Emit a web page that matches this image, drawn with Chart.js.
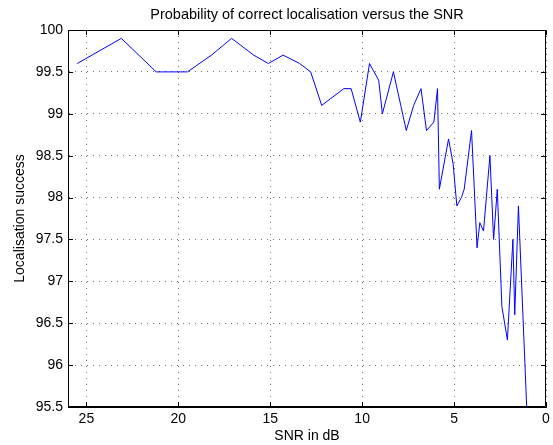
<!DOCTYPE html>
<html>
<head>
<meta charset="utf-8">
<script src="https://cdn.jsdelivr.net/npm/chart.js@4/dist/chart.umd.min.js"></script>
<style>
  html, body { margin: 0; padding: 0; background: #fff; }
  #wrap { width: 553px; height: 445px; }
</style>
</head>
<body>
<div id="wrap"><canvas id="snrChart" width="553" height="445"></canvas></div>
<script>
// SNR values (dB) and localisation success (%)
const snrValues = [25.5, 23.1, 21.2, 19.5, 18.2, 17.1, 15.9, 15.1, 14.3, 13.4,
  12.8, 12.2, 11.6, 11.0, 10.6, 10.1, 9.6, 9.1, 8.9, 8.3,
  7.9, 7.6, 7.2, 6.8, 6.5, 6.1, 5.9, 5.8, 5.3, 5.05,
  4.85, 4.6, 4.45, 4.05, 3.75, 3.6, 3.4, 3.05, 2.85, 2.65,
  2.4, 2.1, 1.8, 1.7, 1.5, 1.05];
const successValues = [99.6, 99.9, 99.5, 99.5, 99.7, 99.9, 99.7, 99.6, 99.7, 99.6,
  99.5, 99.1, 99.2, 99.3, 99.3, 98.9, 99.6, 99.4, 99.0, 99.5,
  99.1, 98.8, 99.1, 99.3, 98.8, 98.9, 99.3, 98.1, 98.7, 98.4,
  97.9, 98.0, 98.1, 98.8, 97.4, 97.7, 97.6, 98.5, 97.5, 98.1,
  96.7, 96.3, 97.5, 96.6, 97.9, 95.5];

const xTicks = [0, 5, 10, 15, 20, 25];
const yTicks = [95.5, 96, 96.5, 97, 97.5, 98, 98.5, 99, 99.5, 100];
const chartTitle = 'Probability of correct localisation versus the SNR';

const FONT = 'Liberation Sans, Arial, Helvetica, sans-serif';

// matlab style box with inward ticks on all four sides, title centred over the axes
const boxPlugin = {
  id: 'boxPlugin',
  afterDraw(chart) {
    const { ctx, chartArea: a, scales } = chart;
    ctx.save();
    ctx.strokeStyle = '#000';
    ctx.lineWidth = 1;
    ctx.beginPath();
    ctx.rect(a.left + 0.5, a.top + 0.5, a.right - a.left - 1, a.bottom - a.top - 1);
    const len = 5;
    xTicks.forEach(v => {
      const px = Math.round(scales.x.getPixelForValue(v)) + 0.5;
      ctx.moveTo(px, a.bottom); ctx.lineTo(px, a.bottom - len);
      ctx.moveTo(px, a.top); ctx.lineTo(px, a.top + len);
    });
    yTicks.forEach(v => {
      const py = Math.round(scales.y.getPixelForValue(v)) + 0.5;
      ctx.moveTo(a.left, py); ctx.lineTo(a.left + len, py);
      ctx.moveTo(a.right, py); ctx.lineTo(a.right - len, py);
    });
    ctx.stroke();

    ctx.fillStyle = '#000';
    ctx.font = '14.5px ' + FONT;
    ctx.textAlign = 'center';
    ctx.textBaseline = 'middle';
    ctx.fillText(chartTitle, (a.left + a.right) / 2, 15);
    ctx.restore();
  }
};

const points = snrValues.map((x, i) => ({ x: x, y: successValues[i] }));

new Chart(document.getElementById('snrChart'), {
  type: 'line',
  data: {
    datasets: [{
      data: points,
      borderColor: '#0000ff',
      borderWidth: 1,
      pointRadius: 0,
      tension: 0,
      fill: false
    }]
  },
  options: {
    responsive: false,
    animation: false,
    layout: { padding: { top: 30, right: 7, left: 12, bottom: 0 } },
    plugins: {
      legend: { display: false },
      tooltip: { enabled: false },
      title: { display: false }
    },
    scales: {
      x: {
        type: 'linear',
        reverse: true,
        min: 0,
        max: 26,
        afterBuildTicks(scale) { scale.ticks = xTicks.map(v => ({ value: v })); },
        afterFit(scale) { scale.height = 38; },
        ticks: { color: '#000', font: { family: FONT, size: 14 }, padding: 4, maxRotation: 0,
          callback: v => String(v) },
        grid: { color: 'rgba(0,0,0,0.55)', borderDash: [1, 5], drawTicks: false },
        border: { display: true, color: '#000', width: 1, dash: [1, 5] },
        title: {
          display: true, text: 'SNR in dB', color: '#000',
          font: { family: FONT, size: 14 }, padding: { top: 0, bottom: 0 }
        }
      },
      y: {
        type: 'linear',
        min: 95.5,
        max: 100,
        afterBuildTicks(scale) { scale.ticks = yTicks.map(v => ({ value: v })); },
        afterFit(scale) { scale.width = 56; },
        ticks: { color: '#000', font: { family: FONT, size: 14 }, padding: 5,
          callback: v => String(v) },
        grid: { color: 'rgba(0,0,0,0.55)', borderDash: [1, 5], drawTicks: false },
        border: { display: true, color: '#000', width: 1, dash: [1, 5] },
        title: {
          display: true, text: 'Localisation success', color: '#000',
          font: { family: FONT, size: 14 }, padding: { top: 0, bottom: 2 }
        }
      }
    }
  },
  plugins: [boxPlugin]
});
</script>
</body>
</html>
